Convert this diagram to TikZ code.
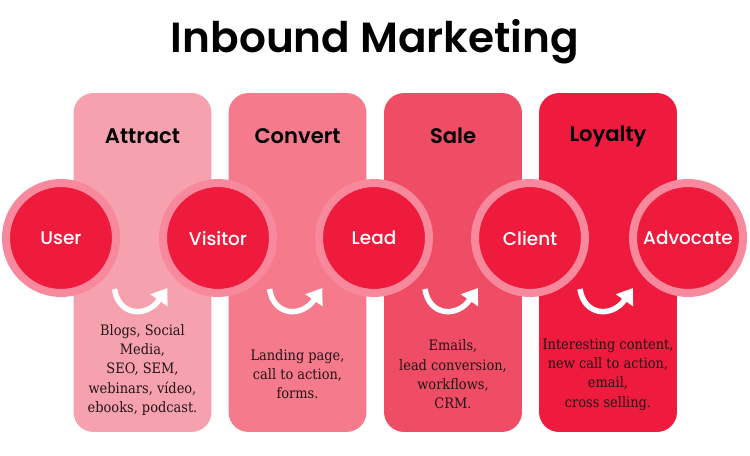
\documentclass[tikz,border=0pt]{standalone}
\usepackage{xcolor}
\usepackage{fontspec}
\usepackage{tikz}
\usetikzlibrary{arrows.meta}
\setmainfont{DejaVu Serif Condensed}
\newfontfamily\titlefont{Poppins SemiBold}
\newfontfamily\labelfont{Poppins Medium}
\definecolor{AttractPink}{HTML}{F6A1AE}
\definecolor{ConvertPink}{HTML}{F57A8C}
\definecolor{SaleRed}{HTML}{EF4D66}
\definecolor{LoyaltyRed}{HTML}{EE1B3E}
\definecolor{StageRed}{HTML}{EE1B3D}
\definecolor{StageRing}{HTML}{F8889B}
\definecolor{BodyDark}{HTML}{231417}
\tikzset{
  stagecol/.style={rectangle, rounded corners=0.4cm, minimum width=2.76cm, minimum height=6.78cm, inner sep=0pt},
  stage/.style={circle, fill=StageRed, draw=StageRing, line width=0.16cm, minimum size=2.2cm, inner sep=0pt, text=white, font=\labelfont\fontsize{10.5}{12}\selectfont},
  colhead/.style={text=black, font=\titlefont\fontsize{12}{14}\selectfont},
  coltext/.style={align=center, text=BodyDark, font=\fontsize{8.2}{11}\selectfont},
  turn/.style={white, line width=0.11cm, -{Triangle[length=0.3cm, width=0.4cm]}},
}

\begin{document}
\begin{tikzpicture}[x=0.02cm, y=-0.02cm]
        \useasboundingbox (0,0) rectangle (750,456);
        \node[text=black, font=\titlefont\fontsize{24}{28}\selectfont] (title) at (375,42) {Inbound Marketing};
        % stage columns
        \node[stagecol, fill=AttractPink] (attract) at (142.5,262.5) {};
        \node[stagecol, fill=ConvertPink] (convert) at (297.5,262.5) {};
        \node[stagecol, fill=SaleRed] (sale) at (453,262.5) {};
        \node[stagecol, fill=LoyaltyRed] (loyalty) at (608,262.5) {};
        \node[colhead] (attracthead) at (142.5,136) {Attract};
        \node[colhead] (converthead) at (297.5,136) {Convert};
        \node[colhead] (salehead) at (453,136) {Sale};
        \node[colhead] (loyaltyhead) at (608,136) {Loyalty};
        % stages
        \node[stage] (user) at (61,238) {User};
        \node[stage] (visitor) at (218,238) {Visitor};
        \node[stage] (lead) at (374,238) {Lead};
        \node[stage] (client) at (530,238) {Client};
        \node[stage] (advocate) at (688,238) {Advocate};
        % turn arrows
        \foreach \cx in {142.5,297.5,453,608}
            \draw[turn] (\cx-28,289) .. controls (\cx-24,316) and (\cx+4,318) .. (\cx+25,288);
        % tactics
        \node[coltext] (attracttext) at (142.5,370) {Blogs, Social\\Media,\\SEO, SEM,\\webinars, vídeo,\\ebooks, podcast.};
        \node[coltext] (converttext) at (297.5,374) {Landing page,\\call to action,\\forms.};
        \node[coltext] (saletext) at (453,374.5) {Emails,\\lead conversion,\\workflows,\\CRM.};
        \node[coltext] (loyaltytext) at (608,374.5) {Interesting content,\\new call to action,\\email,\\cross selling.};
    \end{tikzpicture}
\end{document}
